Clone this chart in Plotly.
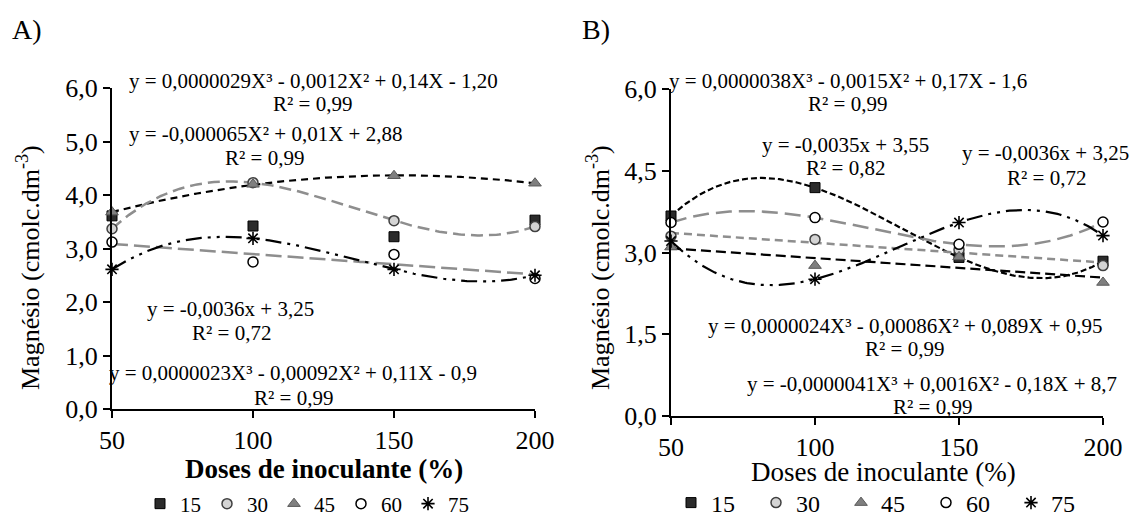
import numpy as np
import plotly.graph_objects as go

W, H = 1134, 517
doses = [50, 100, 150, 200]
groups = ["15", "30", "45", "60", "75"]

# Panel A values
a15 = [3.61, 3.42, 3.22, 3.53]
a30 = [3.37, 4.23, 3.52, 3.41]
a45 = [3.68, 4.20, 4.36, 4.22]
a60 = [3.12, 2.75, 2.89, 2.44]
a75 = [2.61, 3.19, 2.61, 2.50]

# Panel B values
b15 = [3.67, 4.19, 2.91, 2.84]
b30 = [3.30, 3.24, 3.05, 2.76]
b45 = [3.10, 2.76, 2.92, 2.45]
b60 = [3.55, 3.64, 3.15, 3.56]
b75 = [3.21, 2.51, 3.55, 3.31]

eqA = [
    ("y = 0,0000029X³ - 0,0012X² + 0,14X - 1,20", 313, 81),
    ("R² = 0,99", 312, 104),
    ("y = -0,000065X² + 0,01X + 2,88", 265, 134),
    ("R² = 0,99", 264, 158),
    ("y = -0,0036x + 3,25", 230, 309),
    ("R² = 0,72", 231, 333),
    ("y = 0,0000023X³ - 0,00092X² + 0,11X - 0,9", 293, 373),
    ("R² = 0,99", 293, 398),
]
eqB = [
    ("y = 0,0000038X³ - 0,0015X² + 0,17X - 1,6", 848, 81),
    ("R² = 0,99", 847, 104),
    ("y = -0,0035x + 3,55", 845, 145),
    ("R² = 0,82", 845, 168),
    ("y = -0,0036x + 3,25", 1045, 153),
    ("R² = 0,72", 1046, 178),
    ("y = 0,0000024X³ - 0,00086X² + 0,089X + 0,95", 905, 326),
    ("R² = 0,99", 904, 349),
    ("y = -0,0000041X³ + 0,0016X² - 0,18X + 8,7", 932, 384),
    ("R² = 0,99", 932, 407),
]

SERIF = "Liberation Serif, Times New Roman, serif"

def px(x):
    return x / W

def py(y):
    return 1 - y / H

marker_styles = {
    "15": dict(symbol="square", size=10, color="#2b2b2b", line=dict(color="#000000", width=1)),
    "30": dict(symbol="circle", size=10, color="#d4d4d4", line=dict(color="#404040", width=1.5)),
    "45": dict(symbol="triangle-up", size=11, color="#7f7f7f", line=dict(color="#5a5a5a", width=1)),
    "60": dict(symbol="circle", size=10, color="#ffffff", line=dict(color="#000000", width=1.5)),
    "75": dict(symbol="asterisk-open", size=11, color="#000000", line=dict(color="#000000", width=1.6)),
}

fig = go.Figure()
xs = np.linspace(50, 200, 200)

def trend(vals, deg, color, dash, width, xa, ya):
    c = np.polyfit(doses, vals, deg)
    fig.add_trace(go.Scatter(x=xs, y=np.polyval(c, xs), mode="lines", xaxis=xa, yaxis=ya,
                             line=dict(color=color, dash=dash, width=width),
                             showlegend=False, hoverinfo="skip", cliponaxis=False))

BLK = "#000000"
GRY = "#8e8e8e"
DDD = "16px,6px,3px,6px,3px,6px"

# Panel A trendlines
trend(a45, 2, BLK, "7px,5px", 2.2, "x", "y")
trend(a30, 3, GRY, "12px,6px", 2.5, "x", "y")
trend(a60, 1, GRY, "16px,6px", 2.5, "x", "y")
trend(a75, 3, BLK, DDD, 2.2, "x", "y")
# Panel B trendlines
trend(b15, 3, BLK, "6px,3px", 2.2, "x2", "y2")
trend(b60, 3, GRY, "16px,7px", 2.5, "x2", "y2")
trend(b30, 1, GRY, "8px,5px", 2.5, "x2", "y2")
trend(b45, 1, BLK, "10px,5px", 2.2, "x2", "y2")
trend(b75, 3, BLK, DDD, 2.2, "x2", "y2")

dataA = dict(zip(groups, [a15, a30, a45, a60, a75]))
dataB = dict(zip(groups, [b15, b30, b45, b60, b75]))
for g in groups:
    fig.add_trace(go.Scatter(x=doses, y=dataA[g], mode="markers", name=g, marker=marker_styles[g],
                             xaxis="x", yaxis="y", legend="legend", cliponaxis=False))
for g in groups:
    fig.add_trace(go.Scatter(x=doses, y=dataB[g], mode="markers", name=g, marker=marker_styles[g],
                             xaxis="x2", yaxis="y2", legend="legend2", cliponaxis=False))

axis_common = dict(showline=True, linecolor="black", linewidth=2, ticks="outside", ticklen=7,
                   tickwidth=2, tickcolor="black", showgrid=False, zeroline=False,
                   tickfont=dict(family=SERIF, size=26, color="black"))

fig.update_layout(
    width=W, height=H, margin=dict(l=0, r=0, t=0, b=0, autoexpand=False),
    paper_bgcolor="white", plot_bgcolor="white",
    font=dict(family=SERIF, color="black"),
    separators=",.",
    xaxis=dict(domain=[px(112), px(535)], range=[50, 200], tickvals=doses, anchor="y", **axis_common),
    yaxis=dict(domain=[py(409), py(88)], range=[0, 6], dtick=1, tickformat=".1f", anchor="x", **axis_common),
    xaxis2=dict(domain=[px(671), px(1103)], range=[50, 200], tickvals=doses, anchor="y2", **axis_common),
    yaxis2=dict(domain=[py(416), py(89)], range=[0, 6], dtick=1.5, tickformat=".1f", anchor="x2", **axis_common),
    legend=dict(orientation="h", x=px(140), y=py(504), xanchor="left", yanchor="middle",
                font=dict(family=SERIF, size=21, color="black"), bgcolor="rgba(0,0,0,0)",
                entrywidth=22, itemwidth=30, tracegroupgap=0),
    legend2=dict(orientation="h", x=px(671), y=py(503), xanchor="left", yanchor="middle",
                 font=dict(family=SERIF, size=24, color="black"), bgcolor="rgba(0,0,0,0)",
                 entrywidth=40, itemwidth=30, tracegroupgap=0),
    showlegend=True,
)

ann = []
for t, x, y in eqA + eqB:
    ann.append(dict(text=t, x=px(x), y=py(y), xref="paper", yref="paper", showarrow=False,
                    xanchor="center", yanchor="middle", font=dict(family=SERIF, size=21, color="black")))
ann.append(dict(text="A)", x=px(10), y=py(30), xref="paper", yref="paper", showarrow=False,
                xanchor="left", yanchor="middle", font=dict(family=SERIF, size=28, color="black")))
ann.append(dict(text="B)", x=px(580), y=py(30), xref="paper", yref="paper", showarrow=False,
                xanchor="left", yanchor="middle", font=dict(family=SERIF, size=28, color="black")))
ann.append(dict(text="<b>Doses de inoculante (%)</b>", x=px(324), y=py(469), xref="paper", yref="paper",
                showarrow=False, xanchor="center", yanchor="middle",
                font=dict(family=SERIF, size=27, color="black")))
ann.append(dict(text="Doses de inoculante (%)", x=px(883), y=py(472), xref="paper", yref="paper",
                showarrow=False, xanchor="center", yanchor="middle",
                font=dict(family=SERIF, size=27, color="black")))
for xc in (28, 598):
    ann.append(dict(text="Magnésio (cmolc.dm<sup>-3</sup>)", x=px(xc), y=py(268), xref="paper", yref="paper",
                    showarrow=False, xanchor="center", yanchor="middle", textangle=-90,
                    font=dict(family=SERIF, size=26, color="black")))
fig.update_layout(annotations=ann)

fig.write_html("out.html")
